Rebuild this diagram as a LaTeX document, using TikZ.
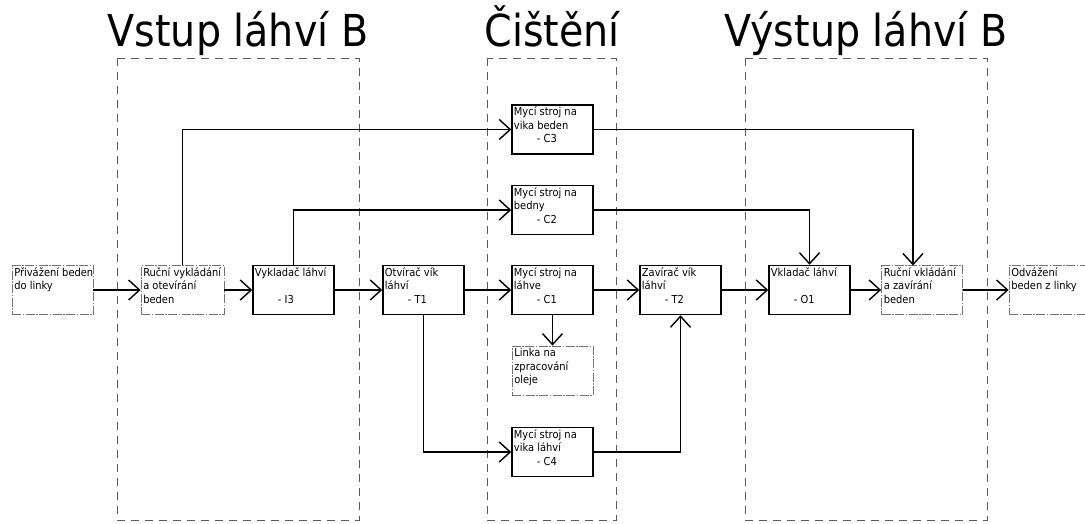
\documentclass[tikz,border=0pt]{standalone}
\usepackage{fontspec}
\setmainfont{DejaVu Sans Condensed}
\usetikzlibrary{arrows.meta}
\tikzset{
	proc/.style={draw,line width=1.5pt,minimum width=81pt,minimum height=49pt,inner sep=0pt},
	ext/.style={draw=black!55,line width=0.8pt,dash pattern=on 9pt off 1.5pt on 1.5pt off 1.5pt,minimum width=81pt,minimum height=49pt,inner sep=0pt},
	txt/.style={anchor=north west,align=left,inner sep=2.5pt,font=\fontsize{11}{13.4}\selectfont},
	area/.style={draw=black!65,line width=0.8pt,dash pattern=on 8pt off 6pt},
	title/.style={anchor=base,font=\fontsize{44}{48}\selectfont},
	flow/.style={line width=1.3pt,-{Straight Barb[length=11pt,width=20pt,line width=1.4pt]}},
}
\begin{document}
\begin{tikzpicture}[x=1pt,y=-1pt]
	\useasboundingbox (0,0) rectangle (1085,524);
	% oblasti
	\draw[area] (117,58) rectangle (359,520);
	\draw[area] (487,58) rectangle (616,520);
	\draw[area] (745,58) rectangle (987,520);
	\node[title] (tvstup) at (238,47) {Vstup láhví B};
	\node[title] (tcist) at (552,47) {Čištění};
	\node[title] (tvystup) at (866,47) {Výstup láhví B};
	% hlavni linka
	\node[ext,label={[txt]north west:Přivážení beden\\do linky}] (pri) at (52.5,290) {};
	\node[ext,minimum width=83pt,label={[txt]north west:Ruční vykládání\\a otevírání\\beden}] (rvy) at (182.5,290) {};
	\node[proc,label={[txt]north west:Vykladač láhví\\\\\hspace*{23pt}- I3}] (vyk) at (293.5,290) {};
	\node[proc,label={[txt]north west:Otvírač vík\\láhví\\\hspace*{23pt}- T1}] (otv) at (423.5,290) {};
	\node[proc,label={[txt]north west:Mycí stroj na\\láhve\\\hspace*{23pt}- C1}] (c1) at (552.5,290) {};
	\node[proc,label={[txt]north west:Zavírač vík\\láhví\\\hspace*{23pt}- T2}] (zav) at (680.5,290) {};
	\node[proc,label={[txt]north west:Vkladač láhví\\\\\hspace*{23pt}- O1}] (vkl) at (809.5,290) {};
	\node[ext,label={[txt]north west:Ruční vkládání\\a zavírání\\beden}] (rvk) at (922,290) {};
	\node[ext,minimum width=76pt,label={[txt]north west:Odvážení\\beden z linky}] (odv) at (1047,290) {};
	% mycky
	\node[proc,label={[txt]north west:Mycí stroj na\\vika beden\\\hspace*{23pt}- C3}] (c3) at (552.5,129.5) {};
	\node[proc,label={[txt]north west:Mycí stroj na\\bedny\\\hspace*{23pt}- C2}] (c2) at (552.5,210) {};
	\node[ext,label={[txt]north west:Linka na\\zpracování\\oleje}] (olej) at (552.5,370.5) {};
	\node[proc,label={[txt]north west:Mycí stroj na\\vika láhví\\\hspace*{23pt}- C4}] (c4) at (552.5,452) {};
	\coordinate (rvkin) at (913,265.5);
	% toky
	\draw[flow] (pri) -- (rvy);
	\draw[flow] (rvy) -- (vyk);
	\draw[flow] (vyk) -- (otv);
	\draw[flow] (otv) -- (c1);
	\draw[flow] (c1) -- (zav);
	\draw[flow] (zav) -- (vkl);
	\draw[flow] (vkl) -- (rvk);
	\draw[flow] (rvk) -- (odv);
	\draw[flow] (rvy.north) |- (c3.west);
	\draw[flow] (vyk.north) |- (c2.west);
	\draw[flow] (c3.east) -| (rvkin);
	\draw[flow] (c2.east) -| (vkl.north);
	\draw[flow] (c1.south) -- (olej.north);
	\draw[flow] (otv.south) |- (c4.west);
	\draw[flow] (c4.east) -| (zav.south);
\end{tikzpicture}
\end{document}
